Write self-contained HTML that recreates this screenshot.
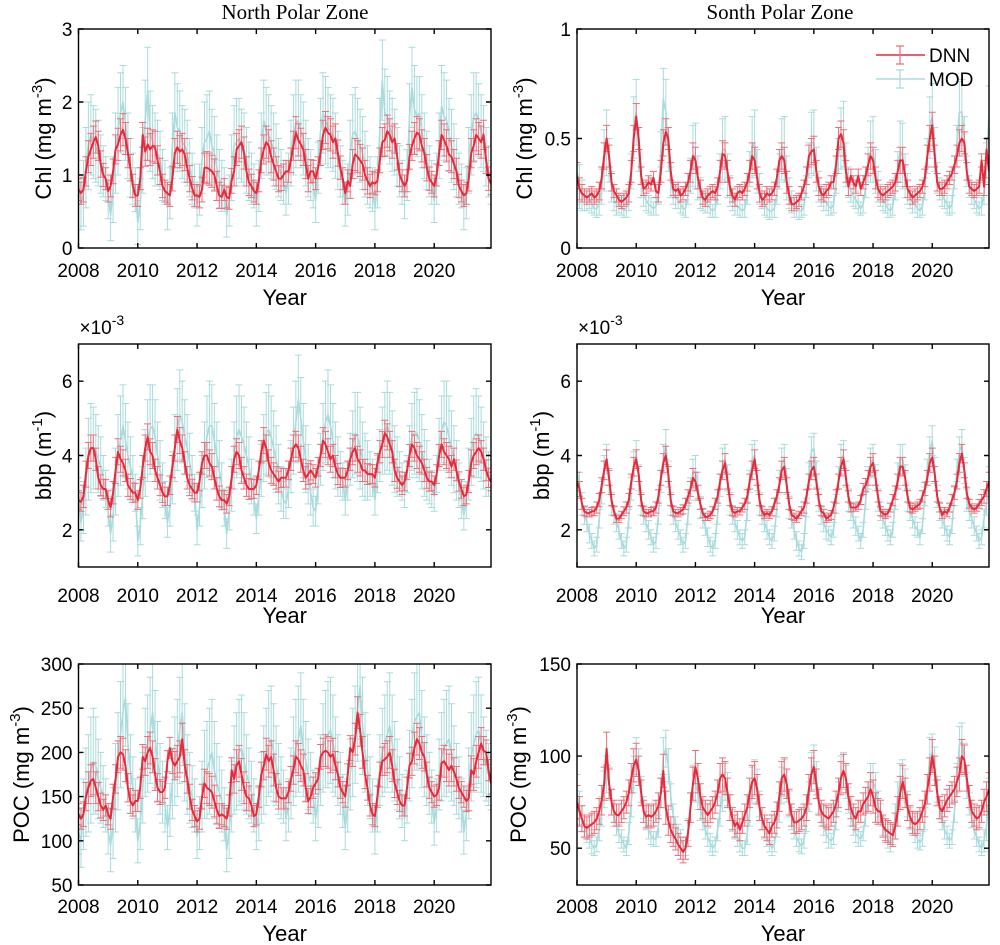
<!DOCTYPE html>
<html><head><meta charset="utf-8"><style>
body{margin:0;background:#fff}
svg{display:block;font-family:"Liberation Sans",Arial,sans-serif}
</style></head><body>
<svg id="fig" width="1000" height="945" viewBox="0 0 1000 945" xmlns="http://www.w3.org/2000/svg">
<rect width="1000" height="945" fill="#fff"/>
<text x="295" y="19" font-family="Liberation Serif,serif" font-size="21" text-anchor="middle">North Polar Zone</text>
<text x="780" y="19" font-family="Liberation Serif,serif" font-size="21" text-anchor="middle">Sonth Polar Zone</text>
</svg>
<script>
const years = ['2008','2010','2012','2014','2016','2018','2020'];
const chlN_dnn = [
.80,.75,.80,1.05,1.25,1.35,1.45,1.52,1.40,1.15,1.00,.95,
.78,.85,1.05,1.35,1.42,1.55,1.62,1.50,1.30,1.10,.85,.72,
.72,.95,1.55,1.32,1.42,1.35,1.40,1.38,1.20,1.05,.85,.78,
.75,.72,.95,1.30,1.38,1.32,1.35,1.28,1.10,.95,.82,.72,
.72,.70,.80,1.10,1.10,1.08,1.05,1.00,.85,.72,.70,.80,
.70,.68,.92,1.05,1.35,1.40,1.45,1.30,1.05,.90,.85,.78,
.75,.92,1.20,1.35,1.45,1.40,1.25,1.15,1.05,.95,.95,1.00,
1.05,1.05,1.20,1.40,1.58,1.48,1.42,1.35,1.15,.95,1.05,1.05,
.95,1.10,1.30,1.55,1.65,1.58,1.55,1.45,1.50,1.30,1.10,.95,
.75,.92,.85,1.15,1.28,1.25,1.20,1.15,1.00,.92,.85,.90,
.88,.92,1.20,1.45,1.48,1.60,1.55,1.45,1.50,1.25,1.00,.92,
.85,.92,1.25,1.40,1.50,1.58,1.55,1.40,1.30,1.10,.95,.90,
.85,1.00,1.30,1.55,1.48,1.40,1.28,1.25,1.15,1.05,.85,.78,
.72,.75,.95,1.30,1.40,1.55,1.50,1.45,1.55,1.20,.95,.88];
const chlN_mod = [
.90,.60,.75,1.10,1.40,1.55,1.45,1.40,1.30,1.15,1.05,.95,
.70,.45,.80,1.30,1.60,1.85,2.00,1.70,1.40,1.10,.95,.80,
.35,.60,1.20,1.75,2.15,1.60,1.45,1.35,1.30,1.20,1.00,.90,
.55,.75,1.40,1.85,1.65,1.60,1.45,1.40,1.30,1.10,.95,.85,
.60,.80,1.20,1.45,1.50,1.60,1.40,1.30,1.10,.95,.85,.80,
.45,.65,1.10,1.40,1.45,1.50,1.40,1.35,1.20,1.05,.95,.85,
.60,.85,1.40,1.75,1.60,1.55,1.45,1.35,1.25,1.10,1.00,.90,
.75,.95,1.30,1.55,1.70,1.75,1.60,1.50,1.30,1.10,1.00,.85,
.65,1.10,1.60,1.85,1.75,1.65,1.60,1.55,1.40,1.20,1.05,.90,
.60,.80,1.30,1.55,1.60,1.50,1.40,1.30,1.15,1.00,.90,.80,
.55,.90,1.60,2.30,1.85,1.80,1.65,1.55,1.45,1.25,1.05,.90,
.70,1.00,1.80,2.20,1.90,1.80,1.85,1.60,1.40,1.20,1.05,.90,
.65,.95,1.40,1.95,1.80,1.75,1.55,1.40,1.25,1.10,.95,.85,
.55,.75,1.20,1.55,1.80,1.85,1.75,1.60,1.50,1.25,1.05,.90];
const chlS_dnn = [
.33,.27,.25,.24,.23,.24,.25,.23,.24,.26,.32,.42,
.50,.42,.30,.26,.24,.22,.21,.22,.23,.25,.35,.50,
.60,.50,.33,.27,.28,.30,.29,.32,.26,.25,.35,.48,
.53,.50,.35,.27,.26,.27,.24,.25,.27,.30,.35,.42,
.40,.32,.27,.23,.22,.24,.25,.26,.25,.28,.35,.43,
.42,.35,.28,.24,.22,.25,.26,.25,.27,.30,.35,.42,
.40,.32,.25,.22,.23,.25,.24,.25,.27,.32,.40,.42,
.40,.30,.24,.20,.20,.21,.22,.25,.28,.33,.42,.44,
.45,.35,.28,.25,.24,.26,.27,.30,.30,.38,.50,.52,
.48,.35,.28,.33,.30,.28,.33,.27,.30,.33,.38,.42,
.40,.32,.27,.25,.24,.25,.26,.27,.28,.30,.35,.40,
.40,.33,.27,.25,.23,.24,.25,.26,.28,.32,.42,.50,
.56,.42,.30,.27,.27,.28,.30,.32,.34,.38,.42,.48,
.50,.48,.35,.28,.27,.26,.27,.28,.40,.28,.45,.35];
const chlS_mod = [
.35,.28,.24,.22,.22,.22,.20,.18,.18,.20,.28,.40,
.48,.40,.28,.22,.20,.20,.19,.17,.18,.22,.35,.55,
.62,.45,.30,.24,.22,.20,.19,.18,.19,.25,.45,.68,
.62,.45,.30,.25,.23,.22,.20,.18,.18,.25,.33,.42,
.42,.32,.25,.22,.21,.20,.18,.17,.18,.25,.35,.45,
.45,.33,.26,.22,.20,.19,.18,.17,.18,.25,.36,.46,
.48,.35,.27,.23,.20,.18,.17,.17,.18,.25,.35,.45,
.45,.32,.25,.21,.19,.18,.17,.17,.19,.28,.40,.48,
.48,.36,.28,.24,.22,.21,.19,.18,.20,.30,.42,.50,
.52,.38,.30,.26,.24,.22,.20,.18,.20,.28,.38,.44,
.45,.35,.28,.24,.22,.20,.18,.17,.19,.27,.36,.44,
.42,.33,.27,.23,.21,.20,.18,.17,.19,.27,.42,.55,
.60,.45,.32,.27,.24,.22,.20,.18,.20,.32,.48,.62,
.62,.50,.35,.28,.25,.22,.20,.18,.19,.25,.40,.60];
const bbpN_dnn = [
2.8,2.75,2.9,3.5,4.0,4.2,4.2,3.9,3.4,3.2,3.1,3.1,
2.8,2.6,3.0,3.6,4.1,3.9,3.8,3.6,3.2,3.1,3.0,3.0,
2.8,3.1,3.7,4.2,4.5,4.1,4.0,3.6,3.4,3.2,3.0,2.9,
2.9,3.2,3.7,4.2,4.7,4.4,4.2,3.8,3.4,3.2,3.1,3.0,
3.0,3.3,3.8,4.0,4.0,3.8,3.7,3.4,3.1,2.9,2.8,2.8,
2.7,2.9,3.4,3.9,4.1,4.0,3.6,3.4,3.2,3.1,3.1,3.1,
3.2,3.6,4.1,4.4,4.2,3.8,3.6,3.5,3.4,3.3,3.4,3.4,
3.4,3.6,3.9,4.2,4.3,4.2,3.9,3.6,3.4,3.5,3.6,3.5,
3.4,3.7,4.0,4.4,4.3,4.1,3.9,4.0,3.7,3.5,3.4,3.4,
3.4,3.6,3.9,4.1,4.2,3.9,3.8,3.6,3.6,3.5,3.5,3.5,
3.4,3.8,4.1,4.3,4.6,4.5,4.3,4.1,3.6,3.4,3.3,3.2,
3.3,3.6,4.0,4.3,4.2,4.0,3.9,3.8,3.6,3.4,3.3,3.3,
3.2,3.5,4.0,4.3,4.1,4.0,3.9,3.7,3.9,3.6,3.3,3.1,
2.9,2.95,3.3,3.8,4.0,4.1,4.2,4.1,3.9,3.6,3.4,3.3];
const bbpN_mod = [
3.0,2.2,2.6,3.3,3.9,4.2,4.2,4.1,3.9,3.7,3.4,3.1,
2.5,1.9,2.4,3.3,4.0,4.4,4.8,4.4,4.0,3.7,3.4,3.0,
1.7,2.1,3.0,3.8,4.4,4.7,4.8,4.5,4.0,3.6,3.2,2.8,
2.2,2.6,3.4,4.2,4.7,5.1,4.9,4.5,4.2,3.8,3.4,3.0,
2.0,2.6,3.3,4.0,4.5,4.8,4.8,4.4,4.0,3.6,3.2,2.6,
1.9,2.5,3.2,4.0,4.5,4.7,4.5,4.3,4.0,3.7,3.3,2.9,
2.3,2.9,3.6,4.2,4.6,4.7,4.5,4.2,3.9,3.5,3.1,2.8,
2.7,3.1,3.7,4.4,4.9,5.5,5.0,4.4,3.9,3.5,3.0,2.6,
2.5,3.2,3.9,4.5,4.9,5.1,4.8,4.4,4.0,3.7,3.5,3.3,
2.8,3.3,3.9,4.3,4.6,4.5,4.2,3.9,3.7,3.6,3.5,3.4,
2.8,3.5,4.0,4.4,4.6,4.8,4.6,4.2,3.9,3.7,3.5,3.3,
3.0,3.5,4.1,4.5,4.6,4.6,4.4,4.1,3.8,3.6,3.3,3.1,
2.9,3.5,4.3,4.7,4.9,4.8,4.5,4.2,3.9,3.6,3.2,2.8,
2.4,2.8,3.5,4.1,4.5,4.6,4.5,4.3,4.0,3.7,3.5,3.4];
const bbpS_dnn = [
3.3,3.1,2.7,2.5,2.45,2.45,2.5,2.5,2.6,2.8,3.2,3.6,
3.9,3.4,2.8,2.5,2.3,2.3,2.4,2.5,2.6,2.8,3.3,3.7,
3.9,3.5,2.8,2.5,2.45,2.45,2.5,2.5,2.6,2.9,3.4,3.8,
4.0,3.5,2.8,2.5,2.45,2.45,2.5,2.55,2.7,2.9,3.1,3.4,
3.3,3.0,2.7,2.45,2.35,2.35,2.4,2.5,2.7,2.9,3.3,3.6,
3.8,3.3,2.8,2.5,2.45,2.5,2.5,2.6,2.7,2.9,3.3,3.6,
3.9,3.4,2.8,2.5,2.4,2.45,2.4,2.5,2.7,2.9,3.2,3.6,
3.7,3.2,2.7,2.4,2.35,2.3,2.4,2.5,2.6,2.9,3.3,3.6,
3.7,3.3,2.8,2.5,2.45,2.3,2.35,2.4,2.6,2.9,3.3,3.7,
3.9,3.4,2.9,2.6,2.6,2.6,2.65,2.8,3.1,3.2,3.4,3.7,
3.8,3.4,2.9,2.5,2.45,2.4,2.45,2.6,2.8,3.0,3.3,3.7,
3.7,3.4,2.9,2.6,2.55,2.6,2.65,2.7,2.9,3.1,3.4,3.8,
3.95,3.5,2.9,2.6,2.4,2.5,2.45,2.6,2.8,3.0,3.3,3.8,
4.05,3.6,3.0,2.7,2.6,2.55,2.6,2.7,2.8,2.9,3.1,3.3];
const bbpS_mod = [
3.6,3.2,2.7,2.4,2.2,1.9,1.7,1.5,1.6,2.3,3.0,3.6,
3.9,3.3,2.7,2.4,2.2,2.0,1.7,1.5,1.6,2.3,3.1,3.7,
4.0,3.4,2.7,2.4,2.2,2.0,1.8,1.6,1.7,2.4,3.3,3.9,
4.3,3.5,2.7,2.4,2.2,2.0,1.8,1.6,1.7,2.4,3.1,3.5,
3.6,3.2,2.6,2.3,2.1,1.8,1.6,1.5,1.7,2.4,3.2,3.8,
3.9,3.4,2.7,2.4,2.2,2.0,1.8,1.7,1.8,2.5,3.3,3.9,
4.0,3.4,2.7,2.4,2.2,2.0,1.8,1.7,1.9,2.6,3.3,3.8,
3.9,3.3,2.6,2.3,2.0,1.7,1.5,1.4,1.7,2.6,3.5,4.1,
4.2,3.5,2.8,2.4,2.2,2.0,1.9,1.8,2.0,2.7,3.4,3.9,
4.0,3.5,2.8,2.5,2.3,2.1,1.9,1.7,2.0,2.8,3.4,3.8,
3.9,3.4,2.8,2.5,2.3,2.1,1.9,1.8,2.0,2.8,3.5,3.9,
3.9,3.4,2.8,2.5,2.3,2.1,2.0,1.8,2.1,2.9,3.6,4.1,
4.4,3.6,2.9,2.5,2.3,2.1,1.9,1.8,2.1,2.9,3.6,4.1,
4.3,3.6,2.8,2.5,2.3,2.1,1.9,1.7,1.8,2.3,2.7,3.3];
const pocN_dnn = [
130,125,130,150,160,168,170,160,150,140,135,140,
130,125,150,170,195,200,198,185,160,145,140,145,
145,160,195,190,200,205,195,175,160,155,155,160,
190,205,190,185,190,195,215,185,170,150,135,128,
122,125,150,165,160,158,155,145,135,128,130,128,
125,140,180,170,185,190,175,160,150,148,140,128,
130,150,175,185,198,190,195,180,160,150,148,148,
148,155,170,180,195,192,185,180,160,145,150,160,
165,170,195,200,202,200,195,198,185,175,160,155,
150,175,205,200,215,245,225,200,175,160,140,130,
128,150,175,190,192,195,200,185,165,155,145,140,
140,160,185,190,205,215,210,200,195,175,160,155,
150,152,160,188,190,185,180,185,178,170,160,155,
150,145,148,180,175,190,200,210,202,200,180,165];
const pocN_mod = [
110,100,130,155,165,180,190,185,170,160,150,140,
110,95,120,160,190,220,245,262,210,180,160,140,
100,120,160,200,210,225,245,215,190,170,155,140,
115,135,165,190,205,225,245,200,175,160,150,140,
105,120,150,175,180,190,200,180,165,155,145,130,
90,110,150,180,190,200,205,190,175,165,155,140,
115,130,160,180,195,210,215,200,185,170,160,150,
125,140,165,190,205,215,230,205,190,175,165,150,
125,145,180,205,215,220,225,210,195,180,165,145,
115,140,175,200,220,250,275,230,200,180,160,140,
110,140,180,200,210,220,230,210,190,175,160,145,
125,150,185,210,235,240,245,215,195,180,165,150,
120,140,175,195,205,210,215,200,185,170,160,140,
110,130,165,195,210,220,225,210,195,185,175,165];
const pocS_dnn = [
75,70,66,62,61,62,63,64,66,70,76,85,
104,85,75,70,68,68,70,72,75,80,88,95,
98,92,80,70,67,68,67,68,70,73,80,92,
72,65,60,57,55,52,50,48,50,58,72,85,
94,88,78,72,70,68,70,72,75,80,88,90,
88,80,72,66,62,64,60,64,68,72,80,86,
88,82,72,66,62,60,58,62,64,68,78,88,
90,85,75,68,64,64,65,66,68,72,82,90,
94,85,75,70,68,67,66,68,70,74,80,88,
92,88,78,72,68,66,70,70,74,76,78,82,
78,72,70,70,62,60,59,58,57,62,70,80,
86,80,72,67,64,63,64,66,70,74,82,90,
100,92,80,72,70,73,76,78,80,82,86,90,
100,98,88,78,70,68,66,67,70,75,78,82];
const pocS_mod = [
80,72,66,62,58,55,52,50,52,60,70,82,
90,85,75,68,62,58,55,52,50,58,75,90,
100,95,82,72,65,60,57,55,55,62,80,100,
104,95,78,68,62,58,55,52,50,60,72,85,
85,80,72,66,60,56,53,50,52,60,70,80,
86,82,72,65,60,56,53,50,50,58,70,84,
88,84,74,66,60,56,53,50,52,62,72,84,
88,84,74,66,60,56,53,51,54,65,78,92,
96,88,76,68,62,58,55,54,56,66,78,90,
92,86,76,68,62,58,56,55,58,68,78,86,
86,82,74,68,62,58,55,52,56,68,78,86,
88,84,74,66,62,58,55,53,55,66,82,100,
102,96,82,72,65,60,57,54,56,70,88,106,
108,98,84,74,66,60,56,52,50,54,62,78];
// error half-widths by calendar month (Jan..Dec)
const errChlN_dnn = [.15,.15,.17,.2,.22,.22,.22,.22,.2,.18,.16,.15];
const errChlN_mod = [.3,.35,.45,.55,.6,.55,.5,.5,.45,.4,.35,.3];
const errChlS_dnn = [.06,.05,.04,.03,.03,.03,.03,.03,.03,.04,.05,.06];
const errChlS_mod = [.15,.1,.07,.05,.05,.04,.04,.03,.04,.05,.08,.14];
const errBbpN_dnn = [.25,.25,.3,.35,.35,.35,.35,.3,.3,.28,.26,.25];
const errBbpN_mod = [.4,.5,.7,.9,1.1,1.2,1.1,1.0,.9,.8,.6,.5];
const errBbpS_dnn = [.25,.2,.15,.12,.1,.1,.1,.12,.15,.18,.2,.25];
const errBbpS_mod = [.4,.35,.3,.25,.25,.25,.2,.2,.2,.25,.3,.4];
const errPocN_dnn = [12,12,14,16,18,18,18,18,16,14,12,12];
const errPocN_mod = [25,30,40,50,55,60,60,55,45,40,35,30];
const errPocS_dnn = [9,8,7,6,6,6,6,6,6,7,8,9];
const errPocS_mod = [10,9,7,6,5,5,5,4,4,6,8,10];

const NS='http://www.w3.org/2000/svg';
const svg=document.getElementById('fig');
const RED='#e42b3c', REDE='#ec6f7a', CYAN='#a9dbdc';
function mk(tag,attrs,parent){const e=document.createElementNS(NS,tag);for(const k in attrs)e.setAttribute(k,attrs[k]);(parent||svg).appendChild(e);return e;}

const panels=[
 {id:'chl-north',L:78.5,R:491,T:29,B:248,ymin:0,ymax:3,ticks:[0,1,2,3],lab:['0','1','2','3'],dnn:chlN_dnn,mod:chlN_mod,ed:errChlN_dnn,em:errChlN_mod,yl:'Chl (mg m',sup:'-3',ylx:43,xt:277,yt:305},
 {id:'chl-south',L:577,R:989,T:29,B:248,ymin:0,ymax:1,ticks:[0,0.5,1],lab:['0','0.5','1'],dnn:chlS_dnn,mod:chlS_mod,ed:errChlS_dnn,em:errChlS_mod,yl:'Chl (mg m',sup:'-3',ylx:524,xt:277,yt:305},
 {id:'bbp-north',L:78.5,R:491,T:344,B:567,ymin:1,ymax:7,ticks:[2,4,6],lab:['2','4','6'],dnn:bbpN_dnn,mod:bbpN_mod,ed:errBbpN_dnn,em:errBbpN_mod,yl:'bbp (m',sup:'-1',ylx:43,xt:602,yt:623,exp:true},
 {id:'bbp-south',L:577,R:989,T:344,B:567,ymin:1,ymax:7,ticks:[2,4,6],lab:['2','4','6'],dnn:bbpS_dnn,mod:bbpS_mod,ed:errBbpS_dnn,em:errBbpS_mod,yl:'bbp (m',sup:'-1',ylx:541,xt:602,yt:623,exp:true},
 {id:'poc-north',L:78.5,R:491,T:664,B:885,ymin:50,ymax:300,ticks:[50,100,150,200,250,300],lab:['50','100','150','200','250','300'],dnn:pocN_dnn,mod:pocN_mod,ed:errPocN_dnn,em:errPocN_mod,yl:'POC (mg m',sup:'-3',ylx:21,xt:913,yt:941},
 {id:'poc-south',L:577,R:989,T:664,B:885,ymin:30,ymax:150,ticks:[50,100,150],lab:['50','100','150'],dnn:pocS_dnn,mod:pocS_mod,ed:errPocS_dnn,em:errPocS_mod,yl:'POC (mg m',sup:'-3',ylx:518,xt:913,yt:941}
];

panels.forEach((p,pi)=>{
 const ppy=(p.R-p.L)/(167/12);
 const xs=i=>p.L+(i/12)*ppy;
 const xy=y=>p.L+(y-2008)*ppy;
 const ys=v=>p.B-(v-p.ymin)/(p.ymax-p.ymin)*(p.B-p.T);
 const g=mk('g',{});
 
 
 const cp=mk('clipPath',{id:'cp'+pi},g);
 mk('rect',{x:p.L,y:p.T,width:p.R-p.L,height:p.B-p.T},cp);
 const plot=mk('g',{'clip-path':'url(#cp'+pi+')'},g);
 function series(vals,errs,lc,ec,lw,name){
  const sg=mk('g',{},plot);
  
  
  let eb='';
  vals.forEach((v,i)=>{const x=xs(i),e=errs[i%12],y1=ys(v-e),y2=ys(v+e);
   eb+=`M${x},${y1}V${y2}M${x-3.5},${y1}h7M${x-3.5},${y2}h7`;});
  const ep=mk('path',{d:eb,stroke:ec,'stroke-width':1,fill:'none'},sg);
  
  
  const ln=mk('polyline',{points:vals.map((v,i)=>xs(i)+','+ys(v)).join(' '),stroke:lc,'stroke-width':lw,fill:'none','stroke-linejoin':'round'},sg);
  
  
 }
 series(p.mod,p.em,CYAN,CYAN,1.6,'mod');
 series(p.dnn,p.ed,RED,REDE,2,'dnn');
 const box=mk('rect',{x:p.L,y:p.T,width:p.R-p.L,height:p.B-p.T,fill:'none',stroke:'#000','stroke-width':1.4},g);
 
 
 let tk='';
 years.forEach(yr=>{const x=xy(+yr);tk+=`M${x},${p.B}v-5M${x},${p.T}v5`;
  const t=mk('text',{x:x,y:p.xt,'font-size':19,'text-anchor':'middle'},g);t.textContent=yr;
  
  });
 p.ticks.forEach((v,k)=>{const y=ys(v);tk+=`M${p.L},${y}h5M${p.R},${y}h-5`;
  const t=mk('text',{x:p.L-6,y:y+7,'font-size':19,'text-anchor':'end'},g);t.textContent=p.lab[k];
  
  });
 mk('path',{d:tk,stroke:'#000','stroke-width':1.4,fill:'none'},g);
 const xl=mk('text',{x:(p.L+p.R)/2,y:p.yt,'font-size':22,'text-anchor':'middle'},g);xl.textContent='Year';
 
 
 const cy=(p.T+p.B)/2;
 const yl=mk('text',{x:p.ylx,y:cy,'font-size':22,'text-anchor':'middle',transform:`rotate(-90 ${p.ylx} ${cy})`,dy:8},g);
 
 
 yl.appendChild(document.createTextNode(p.yl));
 const s=mk('tspan',{'font-size':15,dy:-9},yl);s.textContent=p.sup;
 const s2=mk('tspan',{dy:9},yl);s2.textContent=')';
 if(p.exp){const e=mk('text',{x:p.L+1,y:p.T-10,'font-size':19},g);
  
  
  e.appendChild(document.createTextNode('\u00d710'));
  const es=mk('tspan',{'font-size':14,dy:-9},e);es.textContent='-3';}
});
const lg=mk('g',{});


[['DNN',RED,REDE,55],['MOD',CYAN,CYAN,79]].forEach(([n,c,ec,y])=>{
 const eg=mk('g',{},lg);
 
 
 mk('line',{x1:876,x2:925,y1:y,y2:y,stroke:c,'stroke-width':1.6},eg);
 mk('path',{d:`M900,${y-9}V${y+9}M896,${y-9}h8M896,${y+9}h8`,stroke:ec,'stroke-width':1.2,fill:'none'},eg);
 const t=mk('text',{x:929,y:y+7,'font-size':19},eg);t.textContent=n;
});
</script>
</body></html>
